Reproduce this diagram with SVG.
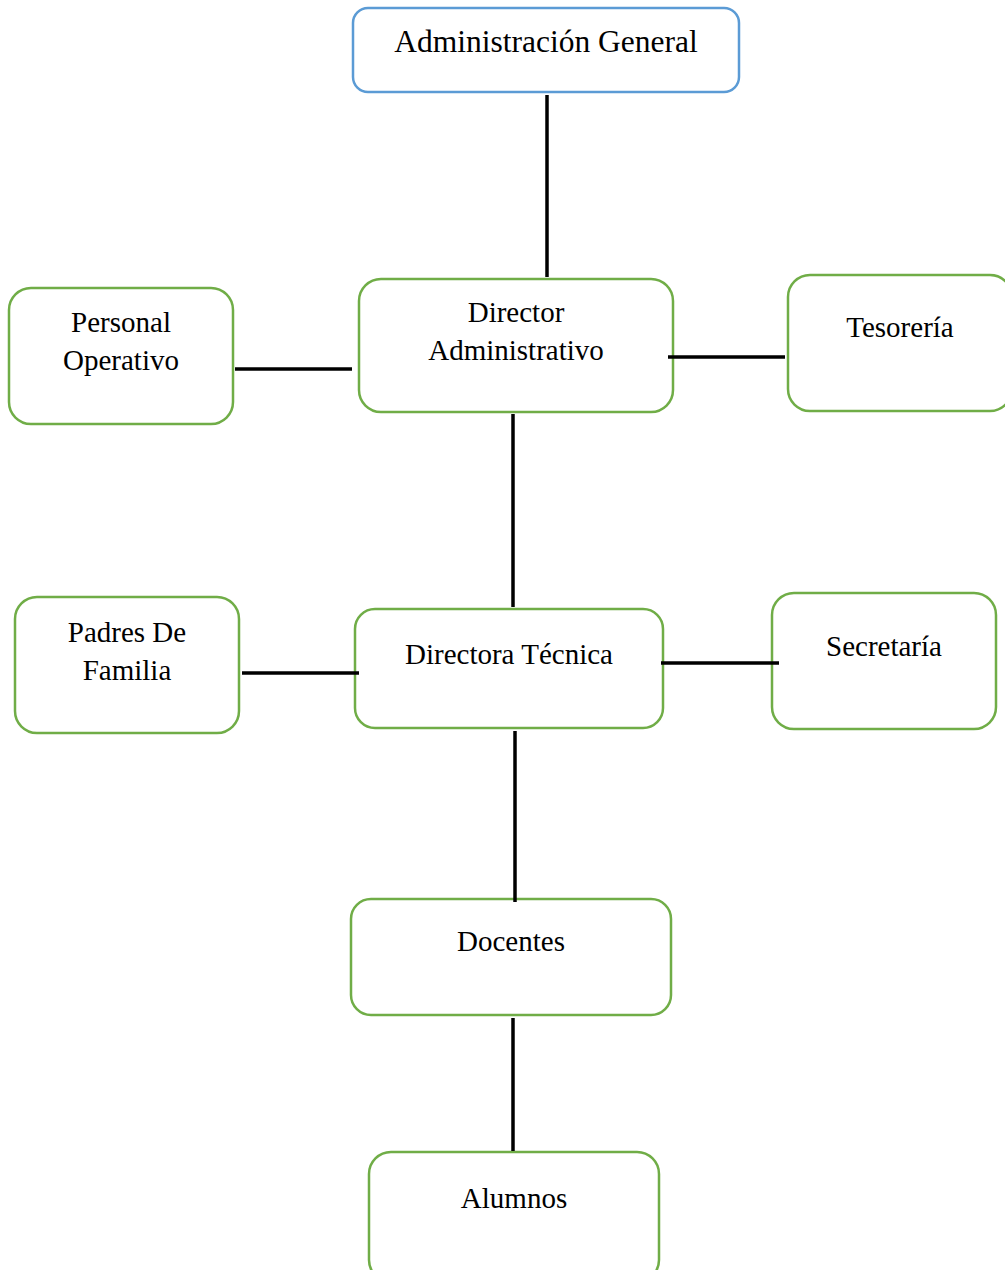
<svg xmlns="http://www.w3.org/2000/svg" width="1005" height="1270" viewBox="0 0 1005 1270">
<style>
.box{fill:#fff;stroke:#70ad47;stroke-width:2.5}
.top{fill:#fff;stroke:#5b9bd5;stroke-width:2.5}
.t{font-family:"Liberation Serif","Times New Roman",serif;font-size:29px;fill:#000;text-anchor:middle}
.c{stroke:#000;stroke-width:3.5;fill:none}
</style>
<rect width="1005" height="1270" fill="#fff"/>
<g id="admin-general">
<rect class="top" x="353" y="8" width="386" height="84" rx="15"/>
<text class="t" x="546" y="52" style="font-size:31.5px">Administración General</text>
</g>
<g id="personal-operativo">
<rect class="box" x="9" y="288" width="224" height="136" rx="22"/>
<text class="t" x="121" y="332">Personal</text>
<text class="t" x="121" y="370">Operativo</text>
</g>
<g id="director-administrativo">
<rect class="box" x="359" y="279" width="314" height="133" rx="22"/>
<text class="t" x="516" y="322">Director</text>
<text class="t" x="516" y="360">Administrativo</text>
</g>
<g id="tesoreria">
<rect class="box" x="788" y="275" width="224" height="136" rx="22"/>
<text class="t" x="900" y="337">Tesorería</text>
</g>
<g id="padres-de-familia">
<rect class="box" x="15" y="597" width="224" height="136" rx="22"/>
<text class="t" x="127" y="642">Padres De</text>
<text class="t" x="127" y="680">Familia</text>
</g>
<g id="directora-tecnica">
<rect class="box" x="355" y="609" width="308" height="119" rx="20"/>
<text class="t" x="509" y="664">Directora Técnica</text>
</g>
<g id="secretaria">
<rect class="box" x="772" y="593" width="224" height="136" rx="22"/>
<text class="t" x="884" y="656">Secretaría</text>
</g>
<g id="docentes">
<rect class="box" x="351" y="899" width="320" height="116" rx="20"/>
<text class="t" x="511" y="951">Docentes</text>
</g>
<g id="alumnos">
<rect class="box" x="369" y="1152" width="290" height="130" rx="22"/>
<text class="t" x="514" y="1208">Alumnos</text>
</g>
<g id="connectors">
<line class="c" x1="547" y1="95" x2="547" y2="277"/>
<line class="c" x1="235" y1="369" x2="352" y2="369"/>
<line class="c" x1="668" y1="357" x2="785" y2="357"/>
<line class="c" x1="513" y1="414" x2="513" y2="607"/>
<line class="c" x1="242" y1="673" x2="359" y2="673"/>
<line class="c" x1="661" y1="663" x2="779" y2="663"/>
<line class="c" x1="515" y1="731" x2="515" y2="902"/>
<line class="c" x1="513" y1="1018" x2="513" y2="1151"/>
</g>
</svg>
